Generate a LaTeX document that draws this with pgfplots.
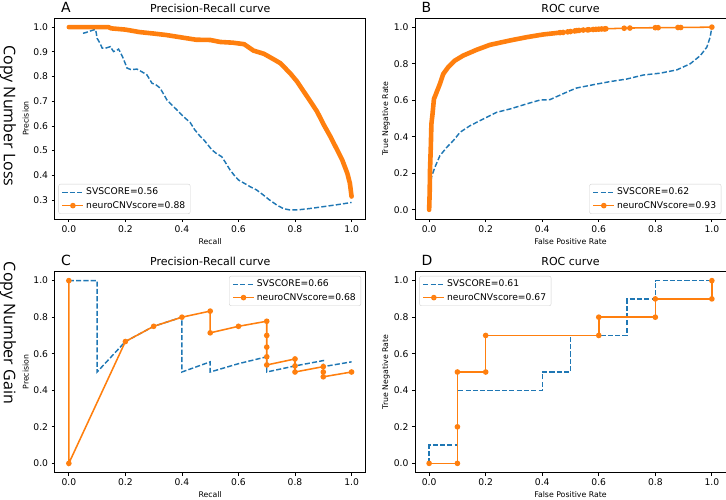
\documentclass[border=0pt]{standalone}
\usepackage{fontspec}
\setmainfont{DejaVu Sans}
\newfontfamily\osans{Open Sans}
\usepackage{pgfplots}
\pgfplotsset{compat=1.18}
\definecolor{mplblue}{HTML}{1F77B4}
\definecolor{mplorange}{HTML}{FF7F0E}
\pgfplotsset{
  mystyle/.style={
    scale only axis, width=311pt, height=201pt,
    anchor=south west,
    clip mode=individual,
    axis line style={line width=0.75pt},
    tick style={line width=0.75pt, black},
    tick align=outside, major tick length=3.2pt,
    xtick pos=bottom, ytick pos=left,
    xmin=-0.05, xmax=1.05,
    xtick={0,0.2,0.4,0.6,0.8,1.0},
    scaled ticks=false,
    ticklabel style={font=\fontsize{9.2}{11}\selectfont},
    /pgf/number format/fixed,
    /pgf/number format/fixed zerofill,
    /pgf/number format/precision=1,
    /pgf/number format/assume math mode=true,
    xticklabel style={anchor=north, inner sep=0pt, yshift=-3.2pt},
    yticklabel style={anchor=east, inner sep=0pt, xshift=-3.2pt},
    label style={font=\fontsize{7.8}{9}\selectfont},
    xlabel style={at={(axis description cs:0.5,-0.112)}, anchor=center},
    ylabel style={at={(axis description cs:-0.093,0.5)}, anchor=center},
    every axis title/.style={at={(axis description cs:0.5,1)}, anchor=base, yshift=5.5pt, font=\fontsize{11}{13}\selectfont},
    legend cell align=left,
    legend style={font=\fontsize{9.2}{11}\selectfont, draw=black!18, rounded corners=2pt, fill=white, fill opacity=0.8, text opacity=1, draw opacity=1, row sep=1pt},
    legend image code/.code={\draw[mark repeat=2,mark phase=2,#1] plot coordinates {(0pt,0pt) (10.5pt,0pt) (21pt,0pt)};},
  },
  blueline/.style={mplblue, line width=1.45pt, dash pattern=on 5.1pt off 2.2pt, no markers},
  orangeline/.style={mplorange, line width=1.55pt, mark=*, mark size=2pt, mark options={solid}},
  orangethick/.style={mplorange, line width=4.6pt, line join=round, line cap=round, no markers},
}
\newcommand{\panel}[1]{\node[anchor=base west, font=\fontsize{14}{16}\selectfont, xshift=3pt, yshift=5.5pt] at (rel axis cs:0,1) {#1};}
\begin{document}
\begin{tikzpicture}
\useasboundingbox (0,0) rectangle (726pt,499pt);
\node[rotate=-90, anchor=base, font=\osans\fontsize{16}{19}\selectfont] at (3.8pt,383pt) {Copy Number Loss};
\node[rotate=-90, anchor=base, font=\osans\fontsize{16}{19}\selectfont] at (3.8pt,166pt) {Copy Number Gain};

% Panel A
\begin{axis}[mystyle, at={(54.7pt,280pt)}, ymin=0.223, ymax=1.037,
  ytick={0.3,0.4,0.5,0.6,0.7,0.8,0.9,1.0},
  title={Precision-Recall curve}, xlabel={Recall}, ylabel={Precision},
  legend style={at={(0.012,0.025)}, anchor=south west}]
\addplot[blueline] coordinates {
(0.05,0.975) (0.06,0.978) (0.07,0.982) (0.088,0.989) (0.095,0.99) (0.1,0.955) (0.11,0.935) (0.118,0.915) (0.13,0.915) (0.147,0.921) (0.158,0.901) (0.168,0.905) (0.176,0.911) (0.19,0.88) (0.206,0.834) (0.22,0.828) (0.241,0.83) (0.26,0.818) (0.276,0.807) (0.294,0.773) (0.31,0.765) (0.323,0.753) (0.347,0.705) (0.36,0.69) (0.382,0.665) (0.405,0.638) (0.429,0.614) (0.445,0.585) (0.465,0.557) (0.48,0.54) (0.506,0.503) (0.52,0.49) (0.541,0.475) (0.555,0.45) (0.57,0.422) (0.585,0.40) (0.6,0.381) (0.62,0.368) (0.641,0.354) (0.665,0.34) (0.688,0.32) (0.71,0.30) (0.735,0.28) (0.759,0.265) (0.78,0.26) (0.81,0.26) (0.85,0.265) (0.9,0.273) (0.95,0.281) (1.0,0.29)};
\addlegendentry{SVSCORE=0.56}
\addplot[orangethick, forget plot] coordinates {
(0,1.0) (0.05,1.0) (0.10,1.0) (0.14,1.0) (0.15,0.995) (0.2,0.99) (0.25,0.98) (0.3,0.974) (0.345,0.968) (0.4,0.958) (0.45,0.949) (0.5,0.948) (0.535,0.94) (0.58,0.937) (0.62,0.931) (0.653,0.905) (0.69,0.892) (0.724,0.87) (0.748,0.854) (0.783,0.813) (0.807,0.78) (0.831,0.739) (0.854,0.70) (0.878,0.658) (0.902,0.604) (0.925,0.557) (0.949,0.503) (0.967,0.462) (0.985,0.408) (0.994,0.368) (1.0,0.314)};
\addlegendimage{orangeline}
\addlegendentry{neuroCNVscore=0.88}
\panel{A}
\end{axis}

% Panel B
\begin{axis}[mystyle, at={(415pt,280pt)}, ymin=-0.05, ymax=1.05,
  ytick={0,0.2,0.4,0.6,0.8,1.0},
  title={ROC curve}, xlabel={False Positive Rate}, ylabel={True Negative Rate},
  legend style={at={(0.985,0.025)}, anchor=south east}]
\addplot[blueline] coordinates {
(0,0) (0.003,0.08) (0.005,0.123) (0.008,0.178) (0.02,0.232) (0.038,0.296) (0.062,0.342) (0.085,0.378) (0.109,0.424) (0.144,0.46) (0.191,0.497) (0.239,0.534) (0.286,0.552) (0.345,0.58) (0.392,0.601) (0.427,0.603) (0.463,0.628) (0.498,0.652) (0.522,0.667) (0.581,0.685) (0.64,0.702) (0.699,0.716) (0.758,0.738) (0.817,0.748) (0.876,0.766) (0.923,0.799) (0.959,0.844) (0.982,0.89) (0.994,0.945) (1.0,1.0)};
\addlegendentry{SVSCORE=0.62}
\addplot[orangethick, forget plot] coordinates {
(0,0) (0.002,0.1) (0.003,0.214) (0.006,0.35) (0.008,0.47) (0.012,0.525) (0.017,0.607) (0.024,0.634) (0.038,0.689) (0.05,0.744) (0.067,0.78) (0.091,0.817) (0.12,0.844) (0.168,0.876) (0.215,0.903) (0.286,0.927) (0.345,0.945) (0.404,0.96) (0.463,0.97)};
\addplot[orangeline] coordinates {
(0.463,0.97) (0.474,0.971) (0.49,0.974) (0.50,0.976) (0.515,0.979) (0.522,0.981) (0.53,0.982) (0.545,0.984) (0.56,0.985) (0.565,0.986) (0.58,0.987) (0.59,0.988) (0.60,0.989) (0.61,0.99) (0.62,0.99) (0.625,0.991) (0.69,0.994) (0.71,0.995) (0.80,0.997) (0.81,0.997) (0.88,0.998) (0.89,0.998) (1.0,1.0)};
\addlegendentry{neuroCNVscore=0.93}
\panel{B}
\end{axis}

% Panel C
\begin{axis}[mystyle, at={(54.7pt,26.5pt)}, ymin=-0.05, ymax=1.05,
  ytick={0,0.2,0.4,0.6,0.8,1.0},
  title={Precision-Recall curve}, xlabel={Recall}, ylabel={Precision},
  legend style={at={(0.985,0.978)}, anchor=north east}]
\addplot[blueline] coordinates {
(0,1) (0.1,1) (0.1,0.5) (0.2,0.6667) (0.3,0.75) (0.4,0.8) (0.4,0.5) (0.5,0.5556) (0.5,0.5) (0.6,0.5455) (0.7,0.5833) (0.7,0.5) (0.8,0.5333) (0.9,0.5625) (0.9,0.5294) (1.0,0.5556)};
\addlegendentry{SVSCORE=0.66}
\addplot[orangeline] coordinates {
(0,1) (0,0) (0.2,0.6667) (0.3,0.75) (0.4,0.8) (0.5,0.8333) (0.5,0.7143) (0.6,0.75) (0.7,0.7778) (0.7,0.7) (0.7,0.6364) (0.7,0.5833) (0.7,0.5385) (0.8,0.5714) (0.8,0.5333) (0.8,0.5) (0.9,0.5294) (0.9,0.5) (0.9,0.4737) (1.0,0.5)};
\addlegendentry{neuroCNVscore=0.68}
\panel{C}
\end{axis}

% Panel D
\begin{axis}[mystyle, at={(415pt,26.5pt)}, ymin=-0.05, ymax=1.05,
  ytick={0,0.2,0.4,0.6,0.8,1.0},
  title={ROC curve}, xlabel={False Positive Rate}, ylabel={True Negative Rate},
  legend style={at={(0.014,0.978)}, anchor=north west}]
\addplot[blueline] coordinates {
(0,0) (0,0.1) (0.1,0.1) (0.1,0.4) (0.4,0.4) (0.4,0.5) (0.5,0.5) (0.5,0.7) (0.7,0.7) (0.7,0.9) (0.8,0.9) (0.8,1.0) (1.0,1.0)};
\addlegendentry{SVSCORE=0.61}
\addplot[orangeline] coordinates {
(0,0) (0.1,0) (0.1,0.2) (0.1,0.5) (0.2,0.5) (0.2,0.7) (0.6,0.7) (0.6,0.8) (0.8,0.8) (0.8,0.9) (1.0,0.9) (1.0,1.0)};
\addlegendentry{neuroCNVscore=0.67}
\panel{D}
\end{axis}
\end{tikzpicture}
\end{document}
